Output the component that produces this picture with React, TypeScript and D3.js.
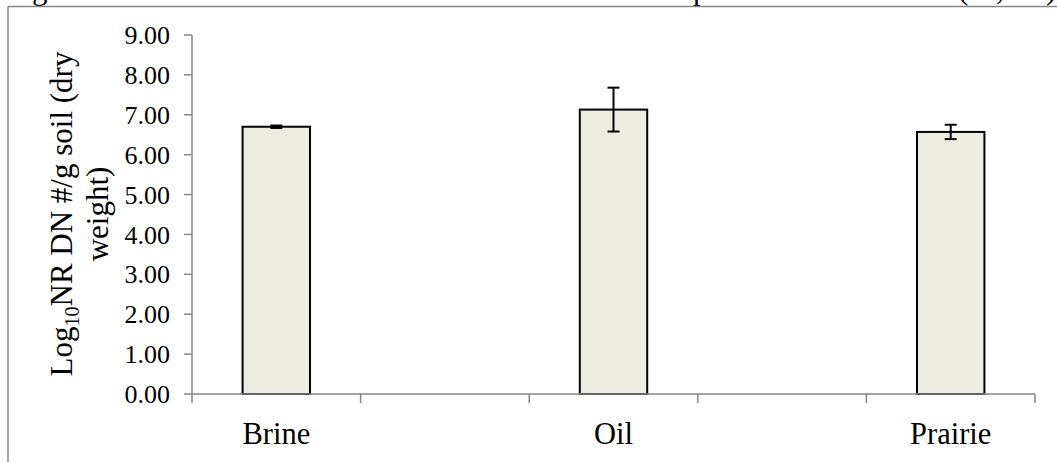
import React from "react";
import * as d3 from "d3";

const categories = ["Brine", "", "Oil", " ", "Prairie"];
const values = [6.70, null, 7.13, null, 6.57];
const errors = [0.03, null, 0.55, null, 0.18];
const yTicks = [0, 1, 2, 3, 4, 5, 6, 7, 8, 9];
const captionGlyphs = [
  { t: "g", x: 32 },
  { t: "p", x: 693 },
  { t: "(", x: 958 },
  { t: ",", x: 996 },
  { t: ")", x: 1046 },
];

const FONT = "'Liberation Serif', 'Times New Roman', Times, serif";
const ts: React.CSSProperties = { fontFamily: FONT };

export default function App() {
  const W = 1057, H = 462;
  const x = d3.scaleBand<string>().domain(categories).range([192, 1035]).paddingInner(0).paddingOuter(0);
  const y = d3.scaleLinear().domain([0, 9]).range([394, 35]);
  const bw = x.bandwidth() * 0.4;
  const axisColor = "#868686";
  const boundaries = d3.range(categories.length + 1).map((i) => 192 + i * x.bandwidth());

  return (
    <svg width={W} height={H} style={{ position: "absolute", left: 0, top: 0, background: "#fff", fontFamily: FONT }}>
      <rect x={0} y={0} width={W} height={H} fill="#fff" />
      {captionGlyphs.map((g, i) => (
        <text key={i} x={g.x} y={-1} fontSize={31} fill="#000" style={ts}>{g.t}</text>
      ))}
      {/* frame */}
      <line x1={8} y1={6.5} x2={W + 5} y2={6.5} stroke={axisColor} strokeWidth={1.5} />
      <line x1={8} y1={6.5} x2={8} y2={H + 5} stroke={axisColor} strokeWidth={1.5} />

      {/* y axis */}
      <line x1={192} y1={y(9)} x2={192} y2={y(0)} stroke={axisColor} strokeWidth={1.5} />
      {yTicks.map((t) => (
        <g key={t}>
          <line x1={184} x2={192} y1={y(t)} y2={y(t)} stroke={axisColor} strokeWidth={1.5} />
          <text x={170} y={y(t)} dy="0.35em" textAnchor="end" fontSize={26} fill="#000" style={ts}>{t.toFixed(2)}</text>
        </g>
      ))}

      {/* bars */}
      {categories.map((c, i) => {
        const v = values[i];
        if (v == null) return null;
        const cx = (x(c) as number) + x.bandwidth() / 2;
        const e = errors[i] as number;
        return (
          <g key={c}>
            <rect x={cx - bw / 2} y={y(v)} width={bw} height={y(0) - y(v)} fill="#EEECE1" stroke="#000" strokeWidth={2} />
            <line x1={cx} x2={cx} y1={y(v + e)} y2={y(v - e)} stroke="#000" strokeWidth={2} />
            <line x1={cx - 6} x2={cx + 6} y1={y(v + e)} y2={y(v + e)} stroke="#000" strokeWidth={2} />
            <line x1={cx - 6} x2={cx + 6} y1={y(v - e)} y2={y(v - e)} stroke="#000" strokeWidth={2} />
          </g>
        );
      })}

      {/* x axis */}
      <line x1={192} y1={y(0)} x2={1035} y2={y(0)} stroke={axisColor} strokeWidth={1.5} />
      {boundaries.map((b, i) => (
        <line key={i} x1={b} x2={b} y1={y(0)} y2={y(0) + 9} stroke={axisColor} strokeWidth={1.5} />
      ))}
      {categories.map((c) =>
        c.trim() ? (
          <text key={c} x={(x(c) as number) + x.bandwidth() / 2} y={444} textAnchor="middle" fontSize={30.5} fill="#000" style={ts}>{c}</text>
        ) : null
      )}

      {/* y title */}
      <g transform="translate(72,214) rotate(-90)">
        <text x={0} y={0} textAnchor="middle" fontSize={31} fill="#000" style={ts}>
          Log<tspan fontSize={20} dy={7}>10</tspan><tspan dy={-7}>NR DN #/g soil (dry</tspan>
        </text>
      </g>
      <g transform="translate(108,214) rotate(-90)">
        <text x={0} y={0} textAnchor="middle" fontSize={31} fill="#000" style={ts}>weight)</text>
      </g>
    </svg>
  );
}
